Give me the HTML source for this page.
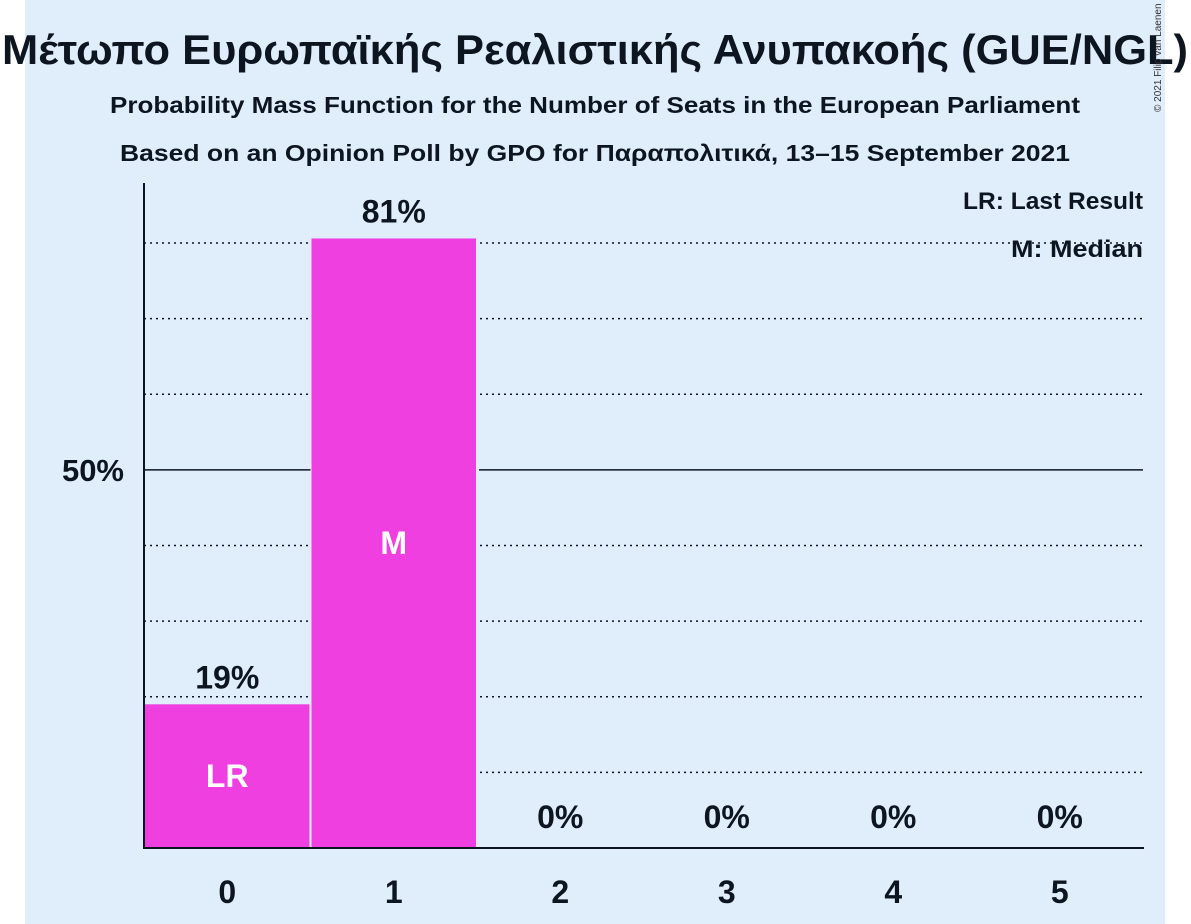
<!DOCTYPE html>
<html><head><meta charset="utf-8">
<style>
html,body{margin:0;padding:0;background:#fff;}
svg{display:block;font-family:"Liberation Sans","DejaVu Sans",sans-serif;}
</style></head>
<body>
<svg id="chart" width="1191" height="924" xmlns="http://www.w3.org/2000/svg">
<rect x="25" y="0" width="1140" height="924" fill="#e0eefc"/>
<text x="595" y="64" text-anchor="middle" font-size="42" font-weight="bold" fill="#0d1520" textLength="1186" lengthAdjust="spacingAndGlyphs">Μέτωπο Ευρωπαϊκής Ρεαλιστικής Ανυπακοής (GUE/NGL)</text>
<text x="595" y="113" text-anchor="middle" font-size="23" font-weight="bold" fill="#0d1520" textLength="970" lengthAdjust="spacingAndGlyphs">Probability Mass Function for the Number of Seats in the European Parliament</text>
<text x="595" y="161" text-anchor="middle" font-size="23" font-weight="bold" fill="#0d1520" textLength="950" lengthAdjust="spacingAndGlyphs">Based on an Opinion Poll by GPO for Παραπολιτικά, 13–15 September 2021</text>
<text transform="translate(1161,112) rotate(-90)" font-size="10" fill="#333">© 2021 Filip van Laenen</text>
<g id="grid"></g>
<g id="bars"></g>
<g id="labels"></g>
<line x1="144" y1="183" x2="144" y2="849" stroke="#0d1520" stroke-width="2"/>
<line x1="143" y1="848" x2="1144" y2="848" stroke="#0d1520" stroke-width="2"/>
<text x="1143" y="209" text-anchor="end" font-size="24" font-weight="bold" fill="#0d1520" textLength="180" lengthAdjust="spacingAndGlyphs">LR: Last Result</text>
<text x="1143" y="257" text-anchor="end" font-size="24" font-weight="bold" fill="#0d1520" textLength="132" lengthAdjust="spacingAndGlyphs">M: Median</text>
</svg>
<script>
const categories = ["0","1","2","3","4","5"];
const probabilities = [19.0, 80.6, 0, 0, 0, 0];
const valueLabels = ["19%","81%","0%","0%","0%","0%"];
const barMarks = ["LR","M","","","",""];
const gridTicks = [10,20,30,40,60,70,80];
const majorTicks = [50];
const majorTickLabels = ["50%"];

const NS="http://www.w3.org/2000/svg";
const x0=144, x1=1143, y0=848, pxPerPct=7.5625;
const bw=(x1-x0)/categories.length;
function yScale(v){return y0-v*pxPerPct;}
function xBand(i){return x0+i*bw;}
function mk(tag,attrs,parent){const e=document.createElementNS(NS,tag);for(const k in attrs)e.setAttribute(k,attrs[k]);parent.appendChild(e);return e;}
const grid=document.getElementById('grid'), bars=document.getElementById('bars'), labels=document.getElementById('labels');
gridTicks.forEach(t=>{
  const l=mk('line',{x1:x0,x2:x1,y1:yScale(t),y2:yScale(t),stroke:'#0d1520','stroke-width':1.5,'stroke-dasharray':'2,4'},grid);
  
  
});
majorTicks.forEach((t,i)=>{
  const l=mk('line',{x1:x0,x2:x1,y1:yScale(t),y2:yScale(t),stroke:'#0d1520','stroke-width':1.5},grid);
  
  
  const tx=mk('text',{x:124,y:yScale(t)+11,'text-anchor':'end','font-size':31,'font-weight':'bold',fill:'#0d1520'},labels);
  tx.textContent=majorTickLabels[i];
  
  
});
categories.forEach((c,i)=>{
  const v=probabilities[i], bx=xBand(i), cx=bx+bw/2;
  if(v>0){
    const top=yScale(v);
    const bg=mk('rect',{x:bx,y:top-4,width:bw+2,height:y0-top+4,fill:'#e0eefc'},bars);
    
    
    const r=mk('rect',{x:bx+(i===0?0:1),y:top,width:bw-(i===0?1:2),height:y0-top,fill:'#ef3fe0'},bars);
    
    
  }
  const vl=mk('text',{x:cx,y:yScale(v)-16,'text-anchor':'middle','font-size':32,'font-weight':'bold',fill:'#0d1520'},labels);
  if(v===0) vl.setAttribute('y',y0-20);
  vl.textContent=valueLabels[i];
  
  
  if(barMarks[i]){
    const m=mk('text',{x:cx,y:(yScale(v)+y0)/2+11,'text-anchor':'middle','font-size':32,'font-weight':'bold',fill:'#ffffff'},labels);
    m.textContent=barMarks[i];
    
    
  }
  const xl=mk('text',{x:cx,y:903,'text-anchor':'middle','font-size':32,'font-weight':'bold',fill:'#0d1520'},labels);
  xl.textContent=c;
  
  
});
</script>
</body></html>
